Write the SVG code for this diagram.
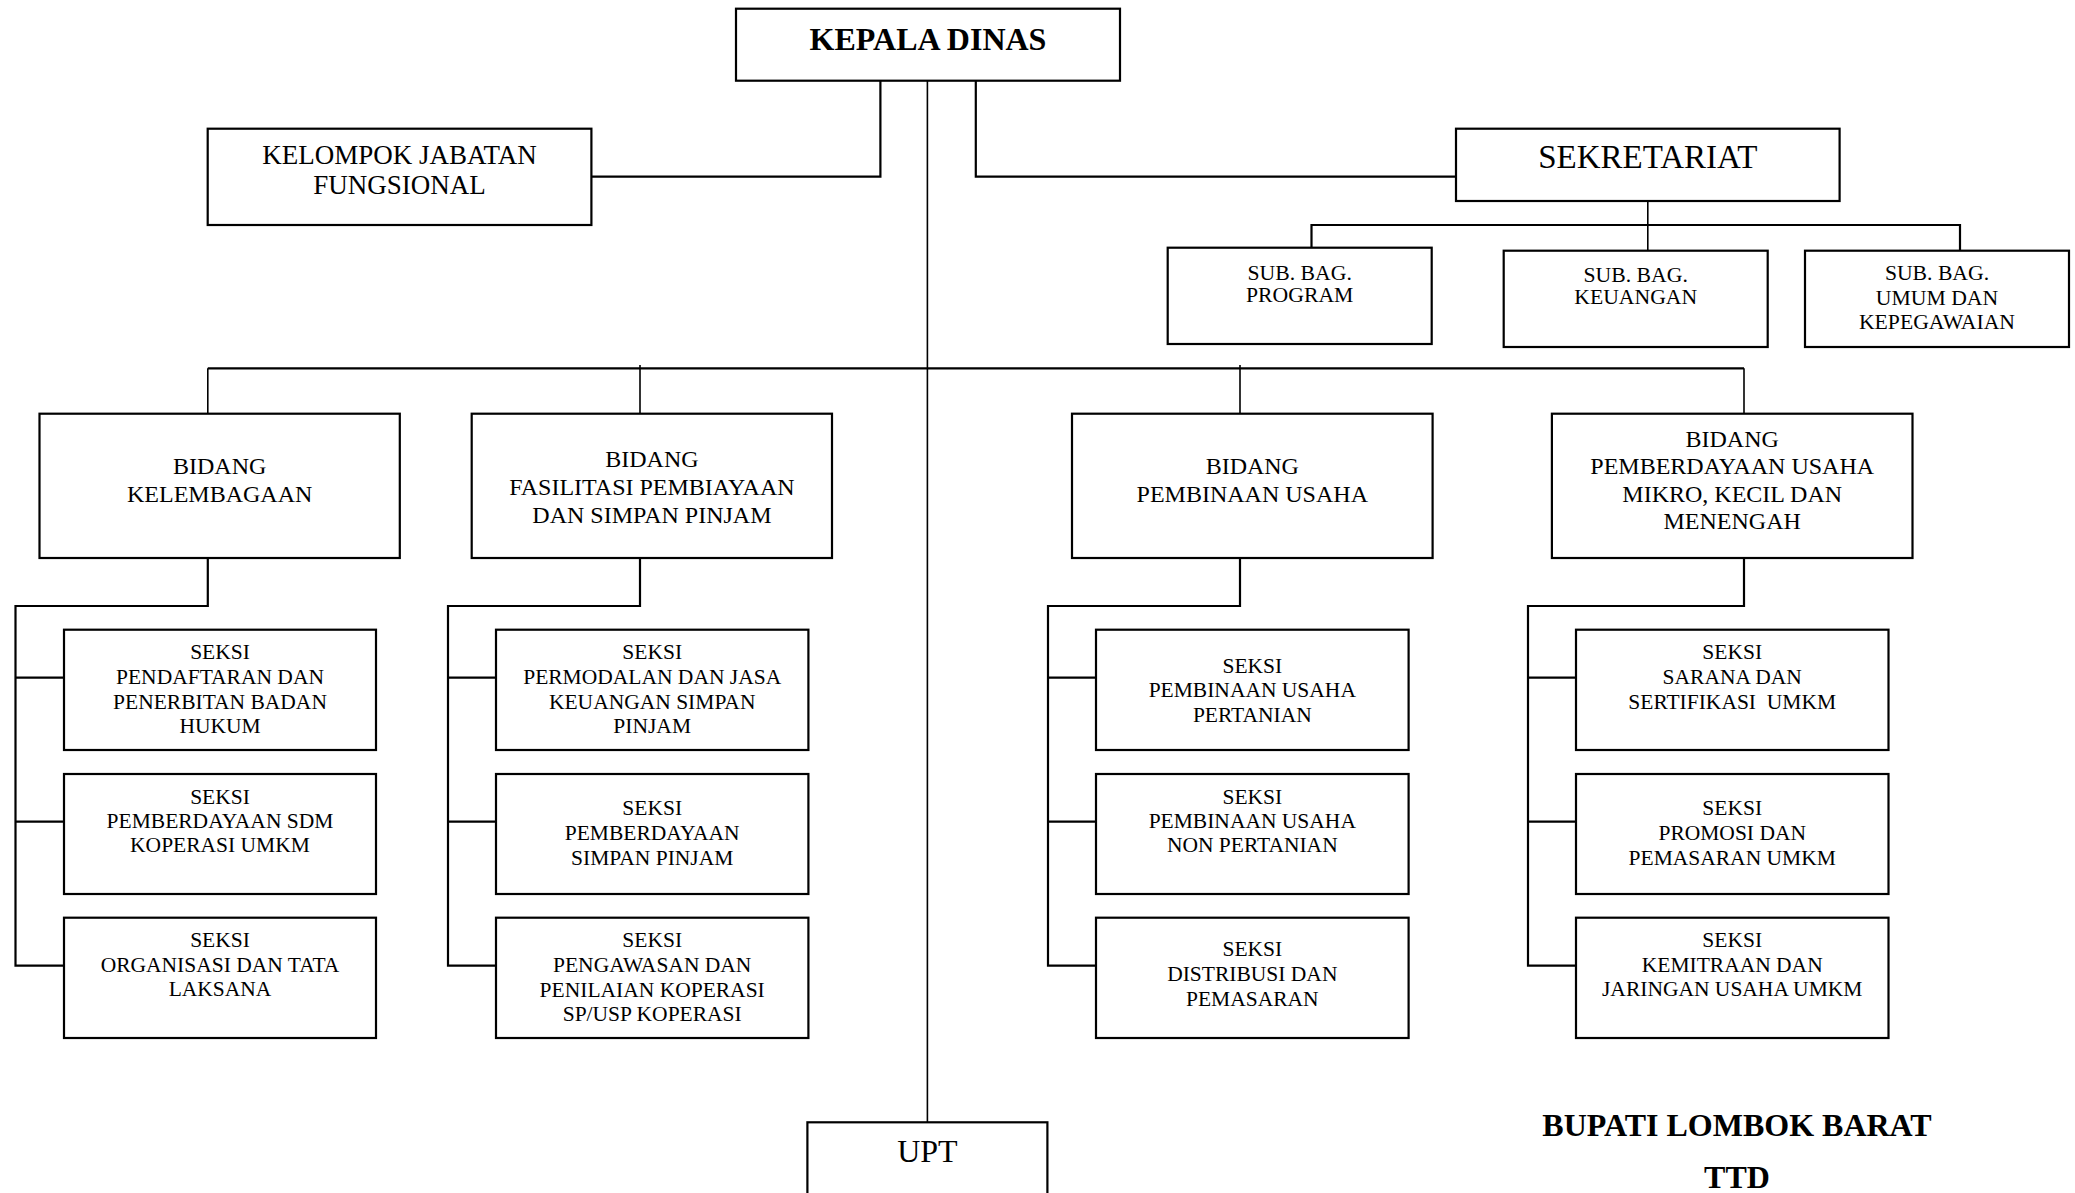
<svg xmlns="http://www.w3.org/2000/svg" width="2075" height="1193" viewBox="0 0 2075 1193">
<style>
.box{fill:#fff;stroke:#000;stroke-width:2.2}
.ln{fill:none;stroke:#000;stroke-width:2.2}
.thin{fill:none;stroke:#000;stroke-width:1.6}
text{font-family:"Liberation Serif","Times New Roman",serif;fill:#000;text-anchor:middle}
.t32b{font-size:32px;font-weight:bold}
.t31{font-size:33px}
.t30{font-size:32px}
.t26{font-size:27px}
.t23{font-size:24px}
.t21{font-size:21.5px}
.t21s{font-size:21.7px}
</style>
<rect width="2075" height="1193" fill="#fff"/>
<g id="connectors">
<line class="thin" x1="927.4" y1="80.7" x2="927.4" y2="1122.3"/>
<polyline class="ln" points="880.4,80.7 880.4,176.7 591.4,176.7"/>
<polyline class="ln" points="975.8,80.7 975.8,176.7 1456,176.7"/>
<line class="thin" x1="1647.8" y1="201" x2="1647.8" y2="250.7"/>
<polyline class="ln" points="1311.5,247.7 1311.5,225 1960,225 1960,250.7"/>
<line class="ln" x1="207.8" y1="368.3" x2="1744" y2="368.3"/>
<line class="thin" x1="207.8" y1="368.3" x2="207.8" y2="413.7"/>
<line class="thin" x1="640" y1="365" x2="640" y2="413.7"/>
<line class="thin" x1="1240" y1="365" x2="1240" y2="413.7"/>
<line class="thin" x1="1744" y1="368.3" x2="1744" y2="413.7"/>
<polyline class="ln" points="207.8,558 207.8,606 15.5,606 15.5,965.7 64,965.7"/>
<line class="ln" x1="15.5" y1="677.7" x2="64" y2="677.7"/>
<line class="ln" x1="15.5" y1="821.7" x2="64" y2="821.7"/>
<polyline class="ln" points="640,558 640,606 448,606 448,965.7 496,965.7"/>
<line class="ln" x1="448" y1="677.7" x2="496" y2="677.7"/>
<line class="ln" x1="448" y1="821.7" x2="496" y2="821.7"/>
<polyline class="ln" points="1240,558 1240,606 1048,606 1048,965.7 1096,965.7"/>
<line class="ln" x1="1048" y1="677.7" x2="1096" y2="677.7"/>
<line class="ln" x1="1048" y1="821.7" x2="1096" y2="821.7"/>
<polyline class="ln" points="1744,558 1744,606 1528,606 1528,965.7 1576,965.7"/>
<line class="ln" x1="1528" y1="677.7" x2="1576" y2="677.7"/>
<line class="ln" x1="1528" y1="821.7" x2="1576" y2="821.7"/>
</g>
<g id="kepala-dinas">
<rect class="box" x="736" y="8.7" width="384" height="72"/>
<text class="t32b" x="928" y="50">KEPALA DINAS</text>
</g>
<g id="kelompok-jabatan-fungsional">
<rect class="box" x="207.7" y="128.7" width="383.7" height="96.3"/>
<text class="t26" x="399.5" y="164">KELOMPOK JABATAN</text>
<text class="t26" x="399.5" y="194">FUNGSIONAL</text>
</g>
<g id="sekretariat">
<rect class="box" x="1456" y="128.7" width="383.6" height="72.3"/>
<text class="t31" x="1647.8" y="168">SEKRETARIAT</text>
</g>
<g id="subbag-program">
<rect class="box" x="1167.7" y="247.7" width="264" height="96.3"/>
<text class="t21s" x="1299.7" y="280">SUB. BAG.</text>
<text class="t21s" x="1299.7" y="302">PROGRAM</text>
</g>
<g id="subbag-keuangan">
<rect class="box" x="1503.7" y="250.7" width="264" height="96.3"/>
<text class="t21s" x="1635.7" y="281.7">SUB. BAG.</text>
<text class="t21s" x="1635.7" y="304.3">KEUANGAN</text>
</g>
<g id="subbag-umum">
<rect class="box" x="1805" y="250.7" width="264" height="96.3"/>
<text class="t21s" x="1937" y="280">SUB. BAG.</text>
<text class="t21s" x="1937" y="304.5">UMUM DAN</text>
<text class="t21s" x="1937" y="328.5">KEPEGAWAIAN</text>
</g>
<g id="bidang-kelembagaan">
<rect class="box" x="39.5" y="413.7" width="360.3" height="144.3"/>
<text class="t23" x="219.7" y="474">BIDANG</text>
<text class="t23" x="219.7" y="502">KELEMBAGAAN</text>
</g>
<g id="bidang-fasilitasi">
<rect class="box" x="471.7" y="413.7" width="360.3" height="144.3"/>
<text class="t23" x="651.9" y="467.3">BIDANG</text>
<text class="t23" x="651.9" y="495">FASILITASI PEMBIAYAAN</text>
<text class="t23" x="651.9" y="522.7">DAN SIMPAN PINJAM</text>
</g>
<g id="bidang-pembinaan">
<rect class="box" x="1072" y="413.7" width="360.6" height="144.3"/>
<text class="t23" x="1252.3" y="474">BIDANG</text>
<text class="t23" x="1252.3" y="502">PEMBINAAN USAHA</text>
</g>
<g id="bidang-pemberdayaan">
<rect class="box" x="1551.9" y="413.7" width="360.6" height="144.3"/>
<text class="t23" x="1732.2" y="446.7">BIDANG</text>
<text class="t23" x="1732.2" y="474.3">PEMBERDAYAAN USAHA</text>
<text class="t23" x="1732.2" y="502">MIKRO, KECIL DAN</text>
<text class="t23" x="1732.2" y="529.3">MENENGAH</text>
</g>
<g id="seksi-pendaftaran">
<rect class="box" x="64" y="629.7" width="312" height="120.3"/>
<text class="t21" x="220" y="659.3">SEKSI</text>
<text class="t21" x="220" y="684.3">PENDAFTARAN DAN</text>
<text class="t21" x="220" y="709">PENERBITAN BADAN</text>
<text class="t21" x="220" y="733.3">HUKUM</text>
</g>
<g id="seksi-sdm">
<rect class="box" x="64" y="774" width="312" height="120"/>
<text class="t21" x="220" y="804">SEKSI</text>
<text class="t21" x="220" y="828.3">PEMBERDAYAAN SDM</text>
<text class="t21" x="220" y="852.3">KOPERASI UMKM</text>
</g>
<g id="seksi-organisasi">
<rect class="box" x="64" y="917.7" width="312" height="120.3"/>
<text class="t21" x="220" y="946.7">SEKSI</text>
<text class="t21" x="220" y="971.7">ORGANISASI DAN TATA</text>
<text class="t21" x="220" y="996">LAKSANA</text>
</g>
<g id="seksi-permodalan">
<rect class="box" x="496" y="629.7" width="312.4" height="120.3"/>
<text class="t21" x="652.2" y="659.3">SEKSI</text>
<text class="t21" x="652.2" y="684.3">PERMODALAN DAN JASA</text>
<text class="t21" x="652.2" y="709">KEUANGAN SIMPAN</text>
<text class="t21" x="652.2" y="733.3">PINJAM</text>
</g>
<g id="seksi-pemberdayaan-sp">
<rect class="box" x="496" y="774" width="312.4" height="120"/>
<text class="t21" x="652.2" y="815">SEKSI</text>
<text class="t21" x="652.2" y="840">PEMBERDAYAAN</text>
<text class="t21" x="652.2" y="865">SIMPAN PINJAM</text>
</g>
<g id="seksi-pengawasan">
<rect class="box" x="496" y="917.7" width="312.4" height="120.3"/>
<text class="t21" x="652.2" y="946.7">SEKSI</text>
<text class="t21" x="652.2" y="971.7">PENGAWASAN DAN</text>
<text class="t21" x="652.2" y="996.7">PENILAIAN KOPERASI</text>
<text class="t21" x="652.2" y="1020.7">SP/USP KOPERASI</text>
</g>
<g id="seksi-pertanian">
<rect class="box" x="1096" y="629.7" width="312.6" height="120.3"/>
<text class="t21" x="1252.3" y="672.7">SEKSI</text>
<text class="t21" x="1252.3" y="696.7">PEMBINAAN USAHA</text>
<text class="t21" x="1252.3" y="721.7">PERTANIAN</text>
</g>
<g id="seksi-non-pertanian">
<rect class="box" x="1096" y="774" width="312.6" height="120"/>
<text class="t21" x="1252.3" y="804">SEKSI</text>
<text class="t21" x="1252.3" y="828.3">PEMBINAAN USAHA</text>
<text class="t21" x="1252.3" y="852.3">NON PERTANIAN</text>
</g>
<g id="seksi-distribusi">
<rect class="box" x="1096" y="917.7" width="312.6" height="120.3"/>
<text class="t21" x="1252.3" y="956">SEKSI</text>
<text class="t21" x="1252.3" y="981">DISTRIBUSI DAN</text>
<text class="t21" x="1252.3" y="1005.7">PEMASARAN</text>
</g>
<g id="seksi-sarana">
<rect class="box" x="1576" y="629.7" width="312.5" height="120.3"/>
<text class="t21" x="1732.2" y="659.3">SEKSI</text>
<text class="t21" x="1732.2" y="684.3">SARANA DAN</text>
<text class="t21" x="1732.2" y="709" xml:space="preserve">SERTIFIKASI  UMKM</text>
</g>
<g id="seksi-promosi">
<rect class="box" x="1576" y="774" width="312.5" height="120"/>
<text class="t21" x="1732.2" y="815">SEKSI</text>
<text class="t21" x="1732.2" y="840">PROMOSI DAN</text>
<text class="t21" x="1732.2" y="865">PEMASARAN UMKM</text>
</g>
<g id="seksi-kemitraan">
<rect class="box" x="1576" y="917.7" width="312.5" height="120.3"/>
<text class="t21" x="1732.2" y="946.7">SEKSI</text>
<text class="t21" x="1732.2" y="971.7">KEMITRAAN DAN</text>
<text class="t21" x="1732.2" y="996">JARINGAN USAHA UMKM</text>
</g>
<g id="upt">
<rect class="box" x="807.4" y="1122.3" width="240" height="100"/>
<text class="t30" x="927.4" y="1161.7">UPT</text>
</g>
<g id="signature">
<text class="t32b" x="1737" y="1136">BUPATI LOMBOK BARAT</text>
<text class="t32b" x="1737" y="1188.3">TTD</text>
</g>
</svg>
